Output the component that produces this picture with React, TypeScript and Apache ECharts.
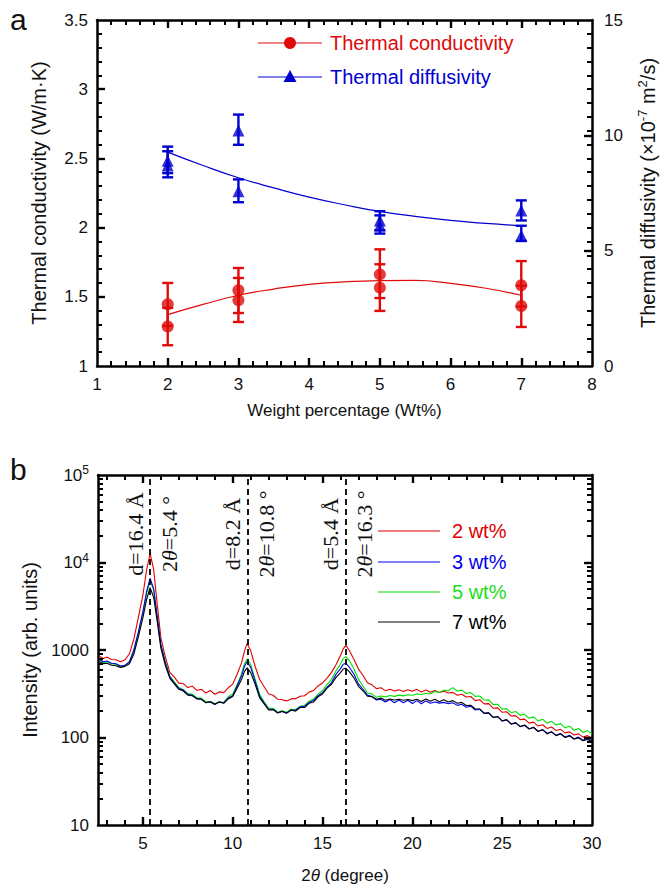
import React, { useEffect, useRef } from 'react';
import * as echarts from 'echarts';

// ---------- Panel a data ----------
const weightPct = [2, 2, 3, 3, 5, 5, 7, 7];
const conductivity = [1.446, 1.285, 1.547, 1.475, 1.662, 1.566, 1.583, 1.434];
const conductivityLow = [1.29, 1.15, 1.383, 1.318, 1.491, 1.398, 1.43, 1.282];
const conductivityHigh = [1.6, 1.42, 1.708, 1.636, 1.843, 1.735, 1.758, 1.58];
const diffusivity = [8.9, 8.69, 10.21, 7.58, 6.31, 6.1, 6.74, 5.66];
const diffusivityLow = [8.36, 8.18, 9.59, 7.1, 5.88, 5.74, 6.31, 5.42];
const diffusivityHigh = [9.51, 9.31, 10.9, 8.09, 6.71, 6.53, 7.18, 6.08];
const fitWeight = [2, 2.5, 3, 3.5, 4, 4.5, 5, 5.5, 6, 6.5, 7];
const conductivityFit = [1.371, 1.445, 1.511, 1.556, 1.59, 1.608, 1.617, 1.619, 1.597, 1.562, 1.511];
const diffusivityFit = [9.27, 8.69, 8.16, 7.72, 7.32, 6.99, 6.7, 6.49, 6.31, 6.18, 6.08];

// ---------- Panel b data ----------
const twoTheta = [
  2.6, 2.8, 3.0, 3.25, 3.5, 3.75, 4.0, 4.25, 4.5, 4.75,
  5.0, 5.2, 5.4, 5.6, 5.8, 6.0, 6.25, 6.5, 6.75, 7.0,
  7.25, 7.5, 7.75, 8.0, 8.25, 8.5, 8.75, 9.0, 9.25, 9.5,
  9.75, 10.0, 10.25, 10.5, 10.65, 10.8, 11.0, 11.25, 11.5, 11.75,
  12.0, 12.25, 12.5, 12.75, 13.0, 13.25, 13.5, 13.75, 14.0, 14.25,
  14.5, 14.75, 15.0, 15.25, 15.5, 15.75, 16.0, 16.15, 16.3, 16.5,
  16.75, 17.0, 17.25, 17.5, 17.75, 18.0, 18.25, 18.5, 18.75, 19.0,
  19.25, 19.5, 19.75, 20.0, 20.25, 20.5, 20.75, 21.0, 21.25, 21.5,
  21.75, 22.0, 22.25, 22.5, 22.75, 23.0, 23.25, 23.5, 23.75, 24.0,
  24.25, 24.5, 24.75, 25.0, 25.25, 25.5, 25.75, 26.0, 26.25, 26.5,
  26.75, 27.0, 27.25, 27.5, 27.75, 28.0, 28.25, 28.5, 28.75, 29.0,
  29.25, 29.5, 29.75, 30.0,
];
const wt2 = [
  845, 800, 830, 778, 775, 735, 772, 905, 1340, 2380,
  4250, 8100, 12700, 8300, 3300, 1380, 835, 555, 490, 418,
  412, 372, 386, 345, 356, 322, 345, 312, 332, 326,
  370, 408, 532, 722, 965, 1190, 985, 648, 460, 380,
  314, 304, 274, 270, 262, 276, 278, 296, 300, 330,
  344, 388, 420, 478, 555, 680, 870, 1030, 1130, 980,
  780, 605, 515, 422, 400, 362, 370, 343, 356, 340,
  352, 335, 352, 338, 355, 332, 348, 328, 345, 326,
  338, 322, 328, 304, 312, 290, 294, 264, 270, 242,
  244, 216, 218, 194, 197, 176, 178, 160, 162, 146,
  150, 135, 140, 127, 132, 120, 124, 113, 116, 107,
  110, 101, 105, 98,
];
const wt3 = [
  772, 735, 748, 705, 696, 655, 668, 735, 1010, 1620,
  2750, 4600, 6600, 5000, 2400, 1150, 712, 492, 420, 364,
  348, 310, 305, 278, 275, 250, 256, 238, 256, 248,
  282, 300, 390, 512, 648, 740, 632, 438, 295, 248,
  210, 210, 192, 198, 190, 206, 205, 224, 228, 252,
  266, 300, 326, 375, 425, 528, 612, 688, 705, 632,
  528, 410, 356, 305, 294, 268, 274, 255, 272, 250,
  268, 249, 266, 245, 264, 243, 262, 246, 254, 247,
  252, 243, 250, 233, 240, 222, 228, 206, 210, 188,
  190, 169, 173, 155, 159, 143, 146, 134, 137, 126,
  130, 118, 123, 112, 116, 106, 111, 101, 106, 96,
  101, 93, 99, 92,
];
const wt5 = [
  766, 722, 735, 694, 688, 645, 662, 728, 990, 1560,
  2650, 4350, 6250, 4800, 2350, 1150, 730, 505, 433, 372,
  352, 318, 313, 285, 282, 256, 258, 244, 252, 252,
  292, 315, 405, 540, 698, 790, 682, 462, 312, 256,
  216, 216, 194, 202, 194, 210, 208, 228, 232, 260,
  274, 313, 344, 402, 462, 578, 692, 798, 840, 752,
  608, 462, 388, 325, 313, 289, 298, 291, 302, 295,
  305, 299, 308, 304, 314, 310, 320, 314, 336, 326,
  348, 342, 372, 340, 348, 318, 326, 295, 298, 268,
  270, 238, 240, 210, 214, 192, 198, 180, 184, 166,
  172, 154, 162, 146, 153, 139, 144, 129, 135, 121,
  127, 114, 120, 110,
];
const wt7 = [
  735, 698, 706, 670, 662, 633, 650, 695, 905, 1420,
  2350, 3750, 5150, 4000, 2100, 1050, 665, 474, 410, 355,
  340, 305, 300, 276, 274, 250, 256, 240, 254, 246,
  276, 294, 368, 464, 566, 625, 552, 406, 284, 242,
  206, 208, 190, 200, 190, 206, 200, 220, 220, 246,
  254, 292, 314, 366, 406, 487, 552, 606, 618, 562,
  478, 385, 342, 296, 292, 274, 282, 266, 276, 268,
  274, 266, 272, 264, 274, 258, 276, 260, 274, 256,
  270, 254, 264, 246, 252, 232, 234, 212, 212, 190,
  192, 170, 174, 154, 160, 142, 148, 133, 139, 125,
  131, 117, 123, 110, 116, 105, 110, 100, 104, 96,
  99, 92, 95, 90,
];
const peakPositions = [5.4, 10.85, 16.3];
const peakSpacing = ['d=16.4 Å', 'd=8.2 Å', 'd=5.4 Å'];
const peakAngle = ['5.4', '10.8', '16.3'];
const xrdNames = ['2 wt%', '3 wt%', '5 wt%', '7 wt%'];
const xrdColors = ['#e00000', '#0000ee', '#00e000', '#000000'];

// ---------- tick positions ----------
const xaMajor = [2, 3, 4, 5, 6, 7];
const xaMinor = [
  1.2, 1.4, 1.6, 1.8, 2.2, 2.4, 2.6, 2.8, 3.2, 3.4, 3.6, 3.8, 4.2, 4.4,
  4.6, 4.8, 5.2, 5.4, 5.6, 5.8, 6.2, 6.4, 6.6, 6.8, 7.2, 7.4, 7.6, 7.8,
];
const yaMajor = [1.5, 2, 2.5, 3];
const yaMinor = [
  1.1, 1.2, 1.3, 1.4, 1.6, 1.7, 1.8, 1.9, 2.1, 2.2, 2.3, 2.4,
  2.6, 2.7, 2.8, 2.9, 3.1, 3.2, 3.3, 3.4,
];
const yaMirror = [...yaMajor, ...yaMinor];
const yRightMajor = [5, 10];
const xbMajor = [5, 10, 15, 20, 25, 30];
const xbMajorTicks = [5, 10, 15, 20, 25];
const xbMinor = [3, 4, 6, 7, 8, 9, 11, 12, 13, 14, 16, 17, 18, 19, 21, 22, 23, 24, 26, 27, 28, 29];
const logMajor = [100, 1000, 10000];
const logMinor = [
  20, 30, 40, 50, 60, 70, 80, 90,
  200, 300, 400, 500, 600, 700, 800, 900,
  2000, 3000, 4000, 5000, 6000, 7000, 8000, 9000,
  20000, 30000, 40000, 50000, 60000, 70000, 80000, 90000,
];

const RED = '#e00a0a';
const BLUE = '#0000d0';
const FONT = '"Liberation Sans", Arial, Helvetica, sans-serif';
const SERIF = '"Liberation Serif", "Times New Roman", serif';
const XA = [1, 8];
const YA = [1, 3.5];
const YR = [0, 15];
const XB = [2.5, 30];
const YB = [10, 100000];
const GA = { left: 97, top: 20, width: 495, height: 346 };
const GB = { left: 98, top: 475, width: 494, height: 350 };
const MAJ = 8;
const MIN = 5;
const MAJ_W = 2.4;
const MIN_W = 2;

const line = { color: '#000', width: 2.5 };
const lbl = { color: '#111', fontSize: 17, fontFamily: FONT };
const xName = { color: '#111', fontSize: 17, fontFamily: FONT };
const yName = { color: '#111', fontSize: 20, fontFamily: FONT };

// data units per pixel on each axis
const xaPx = (XA[1] - XA[0]) / GA.width;
const yaPx = (YA[1] - YA[0]) / GA.height;
const xbPx = (XB[1] - XB[0]) / GB.width;
const ybDecPx = Math.log10(YB[1] / YB[0]) / GB.height;

function errorBars(xs: number[], lo: number[], hi: number[], color: string, yAxisIndex: number) {
  return {
    type: 'custom',
    xAxisIndex: 0,
    yAxisIndex,
    silent: true,
    z: 3,
    data: xs.map((x, i) => [x, lo[i], hi[i]]),
    encode: { x: 0, y: [1, 2] },
    renderItem: (params: any, api: any) => {
      const x = api.value(0);
      const a = api.coord([x, api.value(1)]);
      const b = api.coord([x, api.value(2)]);
      const w = 5.5;
      const st = { stroke: color, lineWidth: 2.4 };
      return {
        type: 'group',
        children: [
          { type: 'line', shape: { x1: a[0], y1: a[1], x2: b[0], y2: b[1] }, style: st },
          { type: 'line', shape: { x1: a[0] - w, y1: a[1], x2: a[0] + w, y2: a[1] }, style: st },
          { type: 'line', shape: { x1: b[0] - w, y1: b[1], x2: b[0] + w, y2: b[1] }, style: st },
        ],
      };
    },
  };
}

// tick segments (as markLine pairs in data coordinates)
function seg(p1: number[], p2: number[], width: number) {
  return [
    { coord: p1, lineStyle: { color: '#000', width, type: 'solid' } },
    { coord: p2 },
  ];
}
function linX(values: number[], lo: number, hi: number, dUnit: number, len: number, w: number) {
  const out: any[] = [];
  values.forEach((v) => {
    out.push(seg([v, lo], [v, lo + len * dUnit], w));
    out.push(seg([v, hi], [v, hi - len * dUnit], w));
  });
  return out;
}
function linY(values: number[], lo: number, hi: number, dUnit: number, len: number, w: number, left: boolean, right: boolean) {
  const out: any[] = [];
  values.forEach((v) => {
    if (left) out.push(seg([lo, v], [lo + len * dUnit, v], w));
    if (right) out.push(seg([hi, v], [hi - len * dUnit, v], w));
  });
  return out;
}
function logX(values: number[], lo: number, hi: number, len: number, w: number) {
  const f = Math.pow(10, len * ybDecPx);
  const out: any[] = [];
  values.forEach((v) => {
    out.push(seg([v, lo * 1.0001], [v, lo * f], w));
    out.push(seg([v, hi * 0.9999], [v, hi / f], w));
  });
  return out;
}
function tickMarks(data: any[]) {
  return {
    silent: true,
    symbol: ['none', 'none'],
    label: { show: false },
    emphasis: { disabled: true },
    lineStyle: { color: '#000', type: 'solid' },
    data,
  };
}

function buildOption() {
  const noTick = { show: false };
  const xAxisA = (pos: string, labels: boolean) => ({
    type: 'value',
    gridIndex: 0,
    position: pos,
    min: XA[0],
    max: XA[1],
    interval: 1,
    axisLine: { show: true, onZero: false, lineStyle: line },
    axisTick: noTick,
    splitLine: { show: false },
    axisLabel: { show: labels, margin: 10, ...lbl },
    name: labels ? 'Weight percentage (Wt%)' : '',
    nameLocation: 'middle',
    nameGap: 36,
    nameTextStyle: xName,
  });
  const xAxisB = (pos: string, labels: boolean) => ({
    type: 'value',
    gridIndex: 1,
    position: pos,
    min: XB[0],
    max: XB[1],
    axisLine: { show: true, onZero: false, lineStyle: line },
    axisTick: noTick,
    splitLine: { show: false },
    axisLabel: { show: labels, margin: 10, customValues: xbMajor, ...lbl },
    name: labels ? '2{i|θ} (degree)' : '',
    nameLocation: 'middle',
    nameGap: 42,
    nameTextStyle: {
      ...xName,
      rich: { i: { fontStyle: 'italic', fontSize: 17, fontFamily: FONT, color: '#111' } },
    },
  });
  const supRich = {
    b: { fontSize: 17, fontFamily: FONT, color: '#111' },
    s: { fontSize: 12, fontFamily: FONT, color: '#111', padding: [0, 0, 10, 0] },
  };

  const ticksA = [
    ...linX(xaMajor, YA[0], YA[1], yaPx, MAJ, MAJ_W),
    ...linX(xaMinor, YA[0], YA[1], yaPx, MIN, MIN_W),
    ...linY(yaMajor, XA[0], XA[1], xaPx, MAJ, MAJ_W, true, false),
    ...linY(yaMinor, XA[0], XA[1], xaPx, MIN, MIN_W, true, false),
    ...linY(yaMirror, XA[0], XA[1], xaPx, MIN, MIN_W, false, true),
  ];
  const ticksAR = linY(yRightMajor, XA[0], XA[1], xaPx, MAJ, MAJ_W, false, true);
  const ticksB = [
    ...logX(xbMajorTicks, YB[0], YB[1], MAJ, MAJ_W),
    ...logX(xbMinor, YB[0], YB[1], MIN, MIN_W),
    ...linY(logMajor, XB[0], XB[1], xbPx, MAJ, MAJ_W, true, true),
    ...linY(logMinor, XB[0], XB[1], xbPx, MIN, MIN_W, true, true),
  ];

  return {
    animation: false,
    backgroundColor: '#ffffff',
    textStyle: { fontFamily: FONT },
    grid: [
      { ...GA, containLabel: false, outerBoundsMode: 'none' },
      { ...GB, containLabel: false, outerBoundsMode: 'none' },
    ],
    xAxis: [
      xAxisA('bottom', true),
      xAxisA('top', false),
      xAxisB('bottom', true),
      xAxisB('top', false),
    ],
    yAxis: [
      {
        type: 'value',
        gridIndex: 0,
        position: 'left',
        min: YA[0],
        max: YA[1],
        interval: 0.5,
        axisLine: { show: true, onZero: false, lineStyle: line },
        axisTick: noTick,
        splitLine: { show: false },
        axisLabel: { margin: 9, ...lbl },
        name: 'Thermal conductivity (W/m·K)',
        nameLocation: 'middle',
        nameGap: 48,
        nameTextStyle: yName,
      },
      {
        type: 'value',
        gridIndex: 0,
        position: 'right',
        min: YR[0],
        max: YR[1],
        interval: 5,
        axisLine: { show: true, onZero: false, lineStyle: line },
        axisTick: noTick,
        splitLine: { show: false },
        axisLabel: { margin: 12, ...lbl },
        name: 'Thermal diffusivity (×10{s|-7} m{s|2}/s)',
        nameLocation: 'middle',
        nameGap: 44,
        nameTextStyle: {
          ...yName,
          rich: {
            s: { fontSize: 13, fontFamily: FONT, color: '#111', padding: [0, 0, 10, 0] },
          },
        },
      },
      {
        type: 'log',
        logBase: 10,
        gridIndex: 1,
        position: 'left',
        min: YB[0],
        max: YB[1],
        axisLine: { show: true, onZero: false, lineStyle: line },
        axisTick: noTick,
        splitLine: { show: false },
        axisLabel: {
          margin: 9,
          ...lbl,
          formatter: (v: number) =>
            v >= 10000 ? `{b|10}{s|${Math.round(Math.log10(v))}}` : `{b|${Math.round(v)}}`,
          rich: supRich,
        },
        name: 'Intensity (arb. units)',
        nameLocation: 'middle',
        nameGap: 56,
        nameTextStyle: yName,
      },
      {
        type: 'log',
        logBase: 10,
        gridIndex: 1,
        position: 'right',
        min: YB[0],
        max: YB[1],
        axisLine: { show: true, onZero: false, lineStyle: line },
        axisTick: noTick,
        splitLine: { show: false },
        axisLabel: { show: false },
      },
    ],
    series: [
      {
        type: 'line',
        name: 'Thermal conductivity fit',
        xAxisIndex: 0,
        yAxisIndex: 0,
        smooth: true,
        symbol: 'none',
        lineStyle: { color: RED, width: 1.2 },
        data: fitWeight.map((x, i) => [x, conductivityFit[i]]),
        z: 2,
        markLine: tickMarks(ticksA),
      },
      {
        type: 'line',
        name: 'Thermal diffusivity fit',
        xAxisIndex: 0,
        yAxisIndex: 1,
        smooth: true,
        symbol: 'none',
        lineStyle: { color: BLUE, width: 1.2 },
        data: fitWeight.map((x, i) => [x, diffusivityFit[i]]),
        z: 2,
        markLine: tickMarks(ticksAR),
      },
      errorBars(weightPct, conductivityLow, conductivityHigh, RED, 0),
      errorBars(weightPct, diffusivityLow, diffusivityHigh, BLUE, 1),
      {
        type: 'scatter',
        name: 'Thermal conductivity',
        xAxisIndex: 0,
        yAxisIndex: 0,
        symbol: 'circle',
        symbolSize: 12,
        itemStyle: { color: RED },
        data: weightPct.map((x, i) => [x, conductivity[i]]),
        z: 4,
      },
      {
        type: 'scatter',
        name: 'Thermal diffusivity',
        xAxisIndex: 0,
        yAxisIndex: 1,
        symbol: 'triangle',
        symbolSize: 12,
        itemStyle: { color: BLUE },
        data: weightPct.map((x, i) => [x, diffusivity[i]]),
        z: 4,
      },
      ...[wt2, wt5, wt3, wt7].map((arr, k) => {
        const idx = [0, 2, 1, 3][k];
        let markLine: any = undefined;
        if (idx === 3) {
          markLine = {
            silent: true,
            symbol: ['none', 'none'],
            label: { show: false },
            emphasis: { disabled: true },
            lineStyle: { color: '#000', width: 1.8, type: [6, 4] },
            data: peakPositions.map((p) => ({ xAxis: p })),
          };
        } else if (idx === 0) {
          markLine = tickMarks(ticksB);
        }
        return {
          type: 'line',
          name: xrdNames[idx],
          xAxisIndex: 2,
          yAxisIndex: 2,
          symbol: 'none',
          showSymbol: false,
          lineStyle: { color: xrdColors[idx], width: 1.1 },
          data: twoTheta.map((x, i) => [x, arr[i]]),
          z: 2,
          markLine,
        };
      }),
    ],
  };
}

export default function App() {
  const ref = useRef<HTMLDivElement>(null);
  useEffect(() => {
    if (!ref.current) return;
    const chart = echarts.init(ref.current, null, { renderer: 'svg' });
    chart.setOption(buildOption() as any);

    const graphics: any[] = [
      { type: 'text', x: 10, y: 4, style: { text: 'a', fontSize: 30, fontFamily: FONT, fill: '#111' } },
      { type: 'text', x: 10, y: 454, style: { text: 'b', fontSize: 30, fontFamily: FONT, fill: '#111' } },
      // legend a
      { type: 'line', shape: { x1: 258, y1: 43, x2: 322, y2: 43 }, style: { stroke: RED, lineWidth: 1.2 } },
      { type: 'circle', shape: { cx: 290, cy: 43, r: 6 }, style: { fill: RED } },
      {
        type: 'text', x: 330, y: 43,
        style: { text: 'Thermal conductivity', fontSize: 20, fontFamily: FONT, fill: RED, verticalAlign: 'middle' },
      },
      { type: 'line', shape: { x1: 258, y1: 77, x2: 322, y2: 77 }, style: { stroke: BLUE, lineWidth: 1.2 } },
      { type: 'polygon', shape: { points: [[290, 70], [283.5, 82], [296.5, 82]] }, style: { fill: BLUE } },
      {
        type: 'text', x: 330, y: 77,
        style: { text: 'Thermal diffusivity', fontSize: 20, fontFamily: FONT, fill: BLUE, verticalAlign: 'middle' },
      },
    ];
    // legend b
    const legendY = [531, 562, 592, 622];
    xrdNames.forEach((n, i) => {
      graphics.push({
        type: 'line',
        shape: { x1: 378, y1: legendY[i], x2: 440, y2: legendY[i] },
        style: { stroke: xrdColors[i], lineWidth: 1.2 },
      });
      graphics.push({
        type: 'text', x: 452, y: legendY[i],
        style: { text: n, fontSize: 20, fontFamily: FONT, fill: i === 2 ? '#22dd22' : xrdColors[i], verticalAlign: 'middle' },
      });
    });
    // peak annotations
    peakPositions.forEach((p, i) => {
      const px = chart.convertToPixel({ xAxisIndex: 2 } as any, p) as unknown as number;
      const common = {
        fontSize: 22,
        fontFamily: SERIF,
        fill: '#111',
        align: 'center',
        verticalAlign: 'middle',
      };
      graphics.push({
        type: 'text', x: px - 15, y: 534, rotation: Math.PI / 2,
        style: { ...common, text: peakSpacing[i] },
      });
      graphics.push({
        type: 'text', x: px + 19, y: 534, rotation: Math.PI / 2,
        style: {
          ...common,
          text: `2{i|θ}=${peakAngle[i]} °`,
          rich: { i: { fontStyle: 'italic', fontSize: 22, fontFamily: SERIF, fill: '#111' } },
        },
      });
    });
    chart.setOption({ graphic: graphics });
    return () => chart.dispose();
  }, []);
  return (
    <div
      ref={ref}
      style={{ position: 'absolute', left: 0, top: 0, width: 672, height: 886, background: '#fff' }}
    />
  );
}
